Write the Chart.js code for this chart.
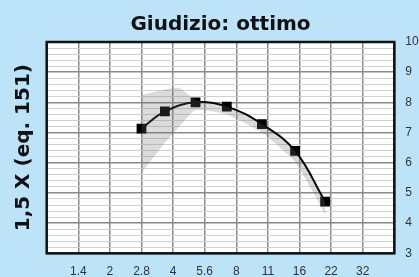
<!DOCTYPE html>
<html>
<head>
<meta charset="utf-8">
<script src="https://cdn.jsdelivr.net/npm/chart.js@4/dist/chart.umd.min.js"></script>
<style>
  html, body { margin: 0; padding: 0; background: #bde3f8; }
  #wrap { width: 419px; height: 277px; position: relative; }
</style>
</head>
<body>
<div id="wrap"><canvas id="lineChart"></canvas></div>
<script>
// aperture labels on the bottom axis (grid positions 0..11)
const apertureLabels = ['', '1.4', '2', '2.8', '4', '5.6', '8', '11', '16', '22', '32', '']

// measured points (x = position on the aperture grid)
const pointX = [3.0, 3.74, 4.71, 5.70, 6.81, 7.86, 8.81]
const pointY = [7.13, 7.70, 8.00, 7.86, 7.28, 6.39, 4.71]

// grey spread band behind the curve
const bandX = [3.0, 3.74, 4.2, 4.71, 5.70, 6.81, 7.86, 8.81]
const bandHigh = [8.25, 8.43, 8.48, 8.08, 7.86, 7.28, 6.39, 4.71]
const bandLow = [5.66, 6.66, 7.2, 7.75, 7.6, 7.0, 6.03, 4.3]

const pts = pointX.map((x, i) => ({x: x, y: pointY[i]}))
const low = bandX.map((x, i) => ({x: x, y: bandLow[i]}))
const high = bandX.map((x, i) => ({x: x, y: bandHigh[i]}))

const isMajor = v => Math.abs(v - Math.round(v)) < 1e-6

// white plot area + black frame
const frame = {
  id: 'frame',
  beforeDraw(chart) {
    const a = chart.chartArea, ctx = chart.ctx
    ctx.save()
    ctx.fillStyle = '#ffffff'
    ctx.fillRect(a.left, a.top, a.right - a.left, a.bottom - a.top)
    ctx.restore()
  },
  afterDraw(chart) {
    const a = chart.chartArea, ctx = chart.ctx
    ctx.save()
    ctx.strokeStyle = '#111'
    ctx.lineWidth = 2.5
    ctx.strokeRect(a.left, a.top, a.right - a.left, a.bottom - a.top)
    ctx.restore()
  }
}

Chart.defaults.font.family = "'Liberation Sans', Arial, sans-serif"
const boldFont = "'DejaVu Sans', 'Liberation Sans', sans-serif"

new Chart(document.getElementById('lineChart').getContext('2d'), {
  type: 'line',
  data: {
    datasets: [{
      data: low,
      borderWidth: 0,
      pointRadius: 0,
      tension: 0.15,
      fill: false
    }, {
      data: high,
      borderWidth: 0,
      pointRadius: 0,
      tension: 0.15,
      backgroundColor: 'rgba(110,110,110,0.25)',
      fill: '-1'
    }, {
      data: pts,
      borderColor: '#000',
      borderWidth: 2,
      tension: 0.4,
      pointStyle: 'rect',
      pointRadius: 5.5,
      pointBackgroundColor: '#000',
      pointBorderColor: '#000',
      fill: false
    }]
  },
  options: {
    responsive: true,
    maintainAspectRatio: false,
    animation: false,
    layout: {padding: {top: 0, right: 0, bottom: 0, left: 0}},
    plugins: {
      legend: {display: false},
      tooltip: {enabled: false},
      title: {
        display: true,
        fullSize: false,
        text: 'Giudizio: ottimo',
        color: '#111',
        font: {family: boldFont, size: 20, weight: 'bold'},
        padding: {top: 13, bottom: 5}
      }
    },
    scales: {
      x: {
        type: 'linear',
        min: 0,
        max: 11,
        ticks: {
          stepSize: 1,
          autoSkip: false,
          maxRotation: 0,
          color: '#333',
          font: {size: 12},
          padding: 11,
          callback: v => apertureLabels[v]
        },
        grid: {color: '#8a8a8a', lineWidth: 1.5, drawTicks: false},
        border: {display: false},
        afterFit: s => { s.height = 23.7 }
      },
      y: {
        position: 'right',
        min: 3,
        max: 10,
        ticks: {
          stepSize: 0.2,
          autoSkip: false,
          color: '#333',
          font: {size: 12},
          padding: 11,
          callback: v => isMajor(v) ? Math.round(v) : ''
        },
        grid: {
          drawTicks: false,
          color: c => isMajor(c.tick.value) ? '#8a8a8a' : '#d0d0d0',
          lineWidth: c => isMajor(c.tick.value) ? 1.5 : 1
        },
        border: {display: false},
        afterFit: s => { s.width = 24.7 }
      },
      yl: {
        position: 'left',
        min: 3,
        max: 10,
        ticks: {display: false},
        grid: {display: false, drawTicks: false},
        border: {display: false},
        title: {
          display: true,
          text: '1,5 X (eq. 151)',
          color: '#111',
          font: {family: boldFont, size: 20, weight: 'bold'},
          padding: {top: 12, bottom: 0}
        },
        afterFit: s => { s.width = 46.7 }
      }
    }
  },
  plugins: [frame]
})
</script>
</body>
</html>
